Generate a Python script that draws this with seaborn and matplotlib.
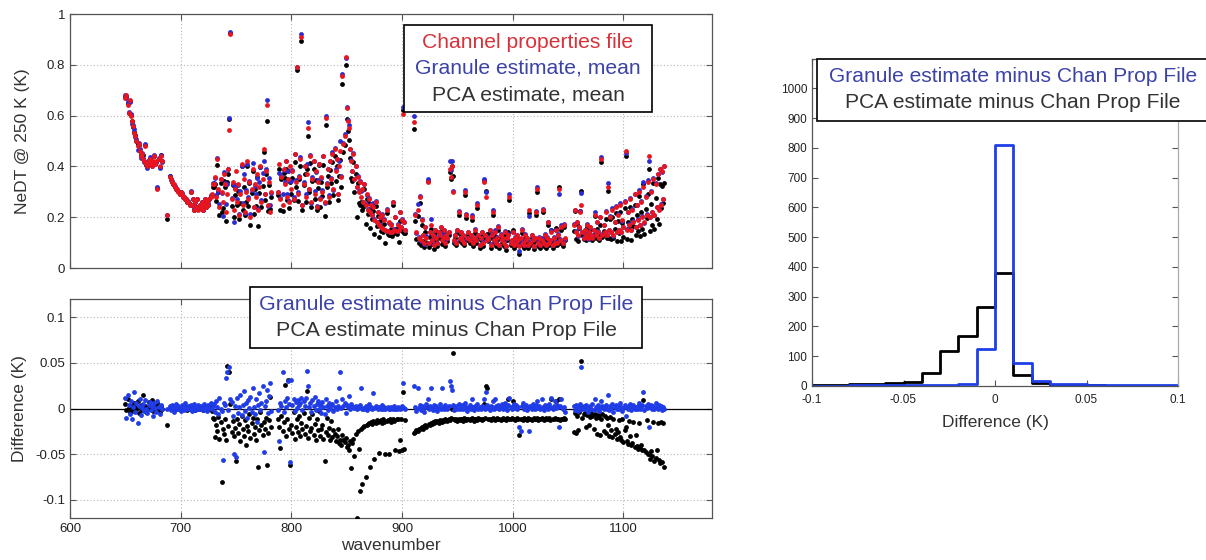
import numpy as np
import pandas as pd
import matplotlib
matplotlib.use("Agg")
import matplotlib.pyplot as plt
import seaborn as sns
from matplotlib.patches import Rectangle

sns.set_theme(style="white")
plt.rcParams['font.family'] = ['Liberation Sans', 'DejaVu Sans']
plt.rcParams['axes.unicode_minus'] = False

# ---------------- data ----------------
# channel grid (cm-1), segments separated by gaps
wavenumber = [*range(650, 684), 688, *range(690, 730), *range(730, 783),
              *range(788, 904), *range(911, 1048), *range(1055, 1138)]

# NeDT @ 250 K from channel properties file (K)
chan_nedt = [
    # 650-683
    0.67, 0.68, 0.64, 0.61, 0.66, 0.60, 0.58, 0.56, 0.53, 0.52,
    0.50, 0.48, 0.49, 0.46, 0.44, 0.45, 0.43, 0.42, 0.48, 0.41,
    0.40, 0.42, 0.43, 0.41, 0.40, 0.42, 0.44, 0.41, 0.42, 0.31,
    0.43, 0.40, 0.44, 0.42,
    # 688
    0.21,
    # 690-729
    0.36, 0.35, 0.34, 0.33, 0.33, 0.32, 0.31, 0.31, 0.30, 0.29,
    0.30, 0.29, 0.28, 0.28, 0.27, 0.27, 0.26, 0.26, 0.25, 0.30,
    0.25, 0.27, 0.23, 0.26, 0.24, 0.27, 0.23, 0.25, 0.24, 0.26,
    0.23, 0.25, 0.27, 0.24, 0.26, 0.25, 0.27, 0.28, 0.29, 0.33,
    # 730-782
    0.33, 0.36, 0.28, 0.43, 0.31, 0.24, 0.35, 0.30, 0.26, 0.37,
    0.33, 0.22, 0.29, 0.39, 0.545, 0.92, 0.27, 0.34, 0.23, 0.31,
    0.38, 0.26, 0.33, 0.21, 0.29, 0.41, 0.25, 0.35, 0.22, 0.30,
    0.42, 0.27, 0.34, 0.20, 0.31, 0.39, 0.24, 0.33, 0.28, 0.37,
    0.23, 0.32, 0.40, 0.26, 0.35, 0.47, 0.29, 0.38, 0.64, 0.25,
    0.34, 0.22, 0.30,
    # 788-903
    0.30, 0.41, 0.27, 0.36, 0.25, 0.39, 0.33, 0.42, 0.28, 0.35,
    0.26, 0.40, 0.31, 0.38, 0.27, 0.45, 0.34, 0.79, 0.29, 0.36,
    0.43, 0.91, 0.25, 0.33, 0.40, 0.28, 0.37, 0.55, 0.31, 0.44,
    0.26, 0.35, 0.42, 0.29, 0.38, 0.24, 0.34, 0.41, 0.27, 0.36,
    0.30, 0.44, 0.26, 0.59, 0.33, 0.39, 0.28, 0.42, 0.35, 0.45,
    0.31, 0.47, 0.38, 0.43, 0.29, 0.40, 0.46, 0.36, 0.755, 0.49,
    0.52, 0.83, 0.63, 0.58, 0.55, 0.47, 0.42, 0.38, 0.45, 0.35,
    0.40, 0.32, 0.36, 0.30, 0.34, 0.28, 0.31, 0.26, 0.33, 0.25,
    0.29, 0.23, 0.27, 0.22, 0.25, 0.21, 0.24, 0.19, 0.26, 0.18,
    0.22, 0.17, 0.20, 0.16, 0.21, 0.155, 0.19, 0.15, 0.23, 0.145,
    0.18, 0.14, 0.17, 0.14, 0.26, 0.15, 0.20, 0.145, 0.17, 0.15,
    0.22, 0.16, 0.19, 0.606, 0.18, 0.15,
    # 911-1047
    0.575, 0.21, 0.14, 0.23, 0.12, 0.28, 0.11, 0.19, 0.13, 0.10,
    0.16, 0.12, 0.34, 0.10, 0.14, 0.17, 0.11, 0.13, 0.09, 0.15,
    0.12, 0.10, 0.14, 0.13, 0.16, 0.11, 0.12, 0.15, 0.10, 0.13,
    0.12, 0.14, 0.39, 0.36, 0.40, 0.30, 0.11, 0.13, 0.10, 0.15,
    0.22, 0.12, 0.14, 0.11, 0.13, 0.10, 0.30, 0.21, 0.12, 0.14,
    0.11, 0.13, 0.20, 0.10, 0.12, 0.15, 0.11, 0.25, 0.13, 0.09,
    0.12, 0.14, 0.10, 0.34, 0.13, 0.28, 0.11, 0.12, 0.15, 0.09,
    0.13, 0.22, 0.11, 0.14, 0.10, 0.12, 0.16, 0.09, 0.13, 0.11,
    0.12, 0.10, 0.14, 0.085, 0.12, 0.13, 0.28, 0.10, 0.11, 0.14,
    0.09, 0.12, 0.10, 0.13, 0.11, 0.085, 0.12, 0.15, 0.10, 0.09,
    0.13, 0.11, 0.12, 0.09, 0.23, 0.10, 0.13, 0.11, 0.085, 0.12,
    0.22, 0.31, 0.10, 0.12, 0.09, 0.11, 0.23, 0.10, 0.13, 0.09,
    0.12, 0.18, 0.10, 0.11, 0.14, 0.09, 0.12, 0.10, 0.15, 0.10,
    0.13, 0.31, 0.11, 0.16, 0.10, 0.17, 0.12,
    # 1055-1137
    0.17, 0.23, 0.14, 0.18, 0.13, 0.16, 0.22, 0.25, 0.14, 0.12,
    0.15, 0.13, 0.17, 0.12, 0.14, 0.16, 0.13, 0.12, 0.15, 0.21,
    0.13, 0.18, 0.14, 0.12, 0.20, 0.43, 0.13, 0.17, 0.14, 0.22,
    0.13, 0.32, 0.15, 0.20, 0.14, 0.23, 0.13, 0.18, 0.24, 0.14,
    0.21, 0.15, 0.25, 0.14, 0.19, 0.16, 0.26, 0.46, 0.15, 0.22,
    0.17, 0.27, 0.15, 0.23, 0.18, 0.29, 0.16, 0.25, 0.19, 0.30,
    0.17, 0.26, 0.20, 0.32, 0.18, 0.28, 0.21, 0.34, 0.44, 0.20,
    0.30, 0.22, 0.35, 0.21, 0.33, 0.24, 0.37, 0.23, 0.39, 0.25,
    0.38, 0.27, 0.40,
]

# Granule estimate minus channel properties file (K)
granule_minus_chan = [
    # 650-683
    0.012, -0.010, 0.015, 0.004, -0.006, 0.008, -0.012, 0.002, 0.018, -0.004,
    0.006, -0.016, 0.003, 0.010, -0.007, 0.001, 0.005, -0.003, 0.009, 0.000,
    -0.005, 0.004, 0.007, -0.002, 0.003, -0.008, 0.006, 0.001, -0.004, 0.008,
    0.002, -0.006, 0.004, -0.001,
    # 688
    0.000,
    # 690-729
    0.003, -0.002, 0.004, 0.001, -0.004, 0.002, 0.005, -0.001, 0.003, 0.000,
    -0.003, 0.004, 0.001, -0.002, 0.006, 0.002, -0.001, 0.003, 0.000, 0.004,
    -0.003, 0.001, 0.005, -0.002, 0.002, 0.000, 0.004, -0.001, 0.003, 0.001,
    -0.002, 0.005, 0.000, 0.002, -0.003, 0.004, 0.001, 0.006, -0.001, 0.003,
    # 730-782
    0.005, -0.004, 0.008, 0.002, -0.006, 0.012, 0.000, -0.003, -0.056, 0.006,
    0.004, 0.033, 0.040, -0.002, 0.045, 0.010, 0.007, -0.008, -0.050, 0.003,
    -0.053, 0.011, -0.005, 0.002, 0.015, -0.007, 0.004, 0.019, -0.003, 0.006,
    -0.010, 0.009, 0.001, 0.013, -0.004, 0.022, 0.002, -0.006, 0.010, -0.015,
    0.004, 0.017, -0.002, 0.006, 0.025, -0.048, 0.003, 0.008, 0.020, -0.005,
    0.014, 0.028, -0.003,
    # 788-903
    -0.002, -0.036, 0.006, 0.003, 0.040, -0.004, 0.008, 0.002, 0.012, 0.030,
    0.005, -0.059, 0.031, 0.004, 0.010, -0.003, 0.007, 0.001, 0.009, 0.004,
    0.006, 0.012, -0.002, 0.008, 0.003, 0.011, 0.041, 0.025, 0.002, 0.006,
    -0.004, 0.009, 0.003, 0.013, -0.002, 0.005, 0.008, 0.000, 0.004, -0.005,
    0.007, 0.002, -0.006, 0.010, 0.003, -0.002, 0.006, 0.001, 0.004, 0.005,
    -0.003, 0.002, 0.008, -0.001, 0.003, 0.022, 0.040, 0.001, 0.010, 0.003,
    0.006, -0.005, 0.004, 0.002, 0.014, 0.000, 0.005, 0.003, 0.002, 0.001,
    0.003, 0.000, 0.001, 0.002, 0.004, 0.022, -0.001, 0.001, 0.000, 0.003,
    -0.002, 0.001, 0.005, 0.001, 0.002, 0.000, 0.017, 0.001, 0.003, 0.002,
    0.000, 0.002, 0.001, 0.000, 0.004, -0.001, 0.002, 0.000, 0.001, 0.002,
    -0.001, 0.000, 0.002, 0.001, 0.000, 0.003, -0.001, 0.000, 0.002, 0.001,
    0.000, 0.001, 0.003, 0.028, 0.001, 0.000,
    # 911-1047
    0.025, 0.002, -0.003, 0.022, 0.001, 0.004, -0.002, 0.003, 0.000, -0.004,
    0.002, 0.005, 0.010, -0.001, 0.003, 0.023, 0.001, -0.002, 0.004, 0.000,
    0.003, -0.003, 0.001, 0.005, 0.000, 0.022, 0.002, -0.001, 0.004, 0.001,
    0.000, 0.003, 0.030, 0.025, 0.020, 0.004, -0.002, 0.001, 0.003, 0.000,
    0.005, -0.001, 0.002, 0.004, 0.000, 0.003, 0.006, 0.002, -0.003, 0.001,
    0.004, 0.000, 0.010, 0.002, -0.002, 0.003, 0.001, 0.005, 0.000, 0.002,
    -0.001, 0.003, 0.002, 0.010, 0.000, 0.018, 0.004, 0.001, -0.002, 0.003,
    0.002, 0.008, 0.000, 0.010, 0.003, 0.001, 0.004, -0.001, 0.002, 0.005,
    0.000, 0.003, 0.006, 0.001, -0.002, 0.004, 0.011, 0.002, 0.000, 0.003,
    0.005, 0.001, 0.004, -0.001, 0.002, -0.020, -0.025, 0.003, 0.006, 0.000,
    0.002, 0.004, -0.002, 0.001, -0.025, 0.003, 0.000, 0.005, 0.002, -0.001,
    0.004, 0.008, 0.001, 0.003, 0.000, 0.010, 0.002, -0.002, 0.004, 0.001,
    0.003, 0.000, 0.005, 0.002, 0.011, -0.001, 0.003, 0.008, 0.001, 0.004,
    0.002, -0.020, 0.003, 0.010, 0.000, 0.002, -0.004,
    # 1055-1137
    0.003, -0.002, 0.004, 0.001, -0.003, 0.002, 0.005, 0.046, 0.000, 0.003,
    -0.001, 0.004, 0.002, -0.004, 0.001, 0.003, 0.000, 0.005, -0.002, 0.010,
    0.002, 0.000, 0.004, -0.003, 0.001, 0.008, 0.003, -0.001, 0.002, 0.004,
    0.000, 0.015, -0.002, 0.003, 0.001, 0.005, -0.004, 0.002, 0.004, 0.000,
    0.003, -0.001, 0.006, 0.002, -0.003, 0.001, 0.004, -0.008, 0.002, 0.000,
    0.003, 0.005, -0.002, 0.001, 0.004, 0.000, 0.002, -0.001, 0.003, 0.006,
    0.000, 0.002, 0.004, 0.018, -0.002, 0.003, 0.001, 0.005, -0.020, 0.002,
    0.004, 0.000, 0.003, -0.001, 0.006, 0.002, 0.000, 0.004, 0.001, 0.003,
    -0.002, 0.002, 0.000,
]

# PCA estimate minus channel properties file (K)
pca_minus_chan = [
    # 650-683
    0.005, -0.002, 0.010, 0.001, -0.004, 0.003, 0.000, -0.003, 0.006, 0.002,
    -0.001, 0.008, -0.005, 0.001, 0.004, -0.002, 0.015, 0.000, 0.003, -0.004,
    0.002, 0.007, -0.001, 0.001, 0.009, -0.003, 0.000, 0.004, -0.002, 0.006,
    0.001, -0.004, 0.003, 0.000,
    # 688
    -0.018,
    # 690-729
    0.001, -0.001, 0.000, 0.002, -0.002, 0.000, 0.001, -0.001, 0.002, 0.000,
    -0.002, 0.001, 0.000, -0.001, 0.002, 0.000, -0.002, 0.001, 0.003, 0.000,
    -0.001, 0.002, 0.000, -0.002, 0.001, 0.000, 0.002, -0.001, 0.000, 0.001,
    -0.002, 0.000, 0.003, -0.001, 0.001, 0.000, 0.002, 0.004, -0.003, -0.010,
    # 730-782
    -0.012, -0.031, -0.018, -0.025, -0.009, -0.033, -0.015, -0.080, -0.022, -0.028,
    -0.012, -0.035, 0.047, -0.019, 0.040, 0.005, -0.026, -0.014, -0.030, -0.021,
    -0.058, -0.011, -0.027, -0.017, -0.036, -0.008, -0.023, -0.030, -0.013, -0.040,
    -0.019, -0.025, -0.006, -0.032, -0.016, -0.010, -0.028, -0.020, -0.035, -0.012,
    -0.064, -0.024, -0.004, -0.018, -0.029, -0.015, -0.022, -0.010, -0.062, -0.027,
    -0.013, 0.013, -0.020,
    # 788-903
    -0.012, -0.020, -0.043, -0.008, -0.025, -0.015, 0.026, -0.030, -0.011, 0.031,
    -0.022, -0.062, -0.018, -0.027, -0.004, -0.033, -0.020, -0.012, -0.026, -0.008,
    -0.030, -0.016, -0.023, -0.005, -0.028, -0.019, 0.019, -0.032, -0.010, -0.025,
    -0.021, -0.006, -0.029, -0.017, -0.034, -0.012, -0.024, -0.003, -0.030, -0.022,
    -0.018, -0.033, -0.057, -0.026, -0.010, -0.029, -0.021, -0.035, -0.014, -0.031,
    -0.024, -0.028, -0.036, -0.030, -0.022, -0.038, -0.034, -0.040, -0.029, -0.035,
    -0.037, -0.032, -0.042, -0.040, -0.045, -0.036, -0.065, -0.038, -0.033, -0.052,
    -0.028, -0.120, -0.025, -0.044, -0.090, -0.022, -0.083, -0.020, -0.019, -0.075,
    -0.018, -0.017, -0.016, -0.064, -0.015, -0.017, -0.014, -0.055, -0.016, -0.013,
    -0.015, -0.049, -0.014, -0.013, -0.016, -0.012, -0.015, -0.050, -0.014, -0.013,
    -0.050, -0.012, -0.015, -0.013, -0.012, -0.014, -0.045, -0.012, -0.011, -0.047,
    -0.034, -0.012, -0.045, 0.018, -0.044, -0.013,
    # 911-1047
    -0.027, -0.026, -0.024, -0.025, -0.022, -0.023, -0.021, -0.020, -0.022, -0.019,
    -0.018, -0.020, 0.002, -0.017, -0.018, -0.016, -0.017, -0.015, -0.016, -0.014,
    -0.015, -0.014, -0.016, -0.013, -0.014, -0.015, -0.013, -0.014, -0.012, -0.013,
    -0.014, -0.012, -0.013, -0.010, 0.000, 0.061, -0.012, -0.013, -0.011, -0.014,
    -0.012, -0.013, -0.011, -0.012, -0.014, -0.010, -0.012, -0.013, -0.011, -0.012,
    -0.013, -0.011, -0.010, -0.012, -0.014, -0.011, -0.012, -0.013, -0.010, -0.012,
    -0.011, -0.013, -0.012, 0.005, -0.010, 0.025, 0.022, -0.012, -0.011, -0.013,
    -0.012, -0.010, -0.011, -0.013, -0.012, -0.010, -0.011, -0.012, -0.013, -0.011,
    -0.010, -0.012, -0.011, -0.013, -0.010, 0.010, -0.012, -0.011, -0.010, 0.008,
    -0.012, -0.013, -0.011, -0.010, -0.012, -0.029, -0.012, -0.011, -0.013, -0.010,
    -0.012, -0.011, -0.013, -0.010, -0.012, -0.011, -0.013, -0.012, -0.010, -0.011,
    -0.012, -0.010, -0.013, -0.011, -0.012, -0.010, -0.011, -0.013, -0.012, -0.010,
    -0.011, -0.012, -0.010, -0.013, 0.010, -0.011, -0.012, -0.010, 0.008, -0.011,
    -0.012, 0.010, -0.013, -0.011, -0.012, -0.010, -0.011,
    # 1055-1137
    -0.026, -0.005, -0.027, -0.008, -0.024, -0.004, 0.003, 0.052, -0.010, -0.006,
    -0.005, -0.020, -0.007, -0.006, -0.018, -0.009, -0.005, -0.008, -0.022, -0.006,
    -0.010, -0.028, -0.007, -0.009, -0.029, -0.012, -0.006, -0.025, -0.008, -0.027,
    -0.010, -0.018, -0.030, -0.009, -0.024, -0.031, -0.011, -0.028, -0.022, -0.033,
    -0.026, -0.013, -0.031, -0.035, -0.012, -0.037, -0.024, -0.020, -0.036, -0.039,
    -0.014, -0.030, -0.040, -0.038, -0.015, -0.042, -0.029, -0.041, -0.044, -0.016,
    -0.043, -0.040, -0.046, 0.009, -0.045, -0.048, -0.013, -0.050, -0.050, -0.055,
    -0.047, -0.052, -0.015, -0.058, -0.054, -0.046, -0.016, -0.056, -0.060, -0.015,
    -0.059, -0.016, -0.064,
]

# histogram of the differences (all channels), 0.01 K bins
hist_edges = [-0.10, -0.09, -0.08, -0.07, -0.06, -0.05, -0.04, -0.03, -0.02, -0.01, 0.00,
              0.01, 0.02, 0.03, 0.04, 0.05, 0.06, 0.07, 0.08, 0.09, 0.10]
granule_hist_counts = [1, 1, 2, 2, 3, 3, 4, 5, 6, 126, 809, 78, 17, 7, 6, 3, 3, 3, 3, 2]
pca_hist_counts = [2, 3, 7, 7, 11, 15, 43, 119, 169, 264, 379, 38, 9, 3, 2, 2, 1, 1, 1, 1]

n = min(len(wavenumber), len(chan_nedt), len(granule_minus_chan), len(pca_minus_chan))

df = pd.DataFrame({
    "wavenumber": wavenumber[:n],
    "chan": chan_nedt[:n],
    "gdiff": granule_minus_chan[:n],
    "pdiff": pca_minus_chan[:n],
})
df["granule"] = df["chan"] + df["gdiff"]
df["pca"] = df["chan"] + df["pdiff"]

hist_centers = [(a + b) / 2 for a, b in zip(hist_edges[:-1], hist_edges[1:])]

# ---------------- styling ----------------
RED = "#e8141e"
BLUE_TOP = "#2a2ad2"
BLUE_BOT = "#1f3ce6"
BLUE_HIST = "#1e3ee8"
SPINE = "#555555"
TXT = "#222222"

W, H = 1206, 560
fig = plt.figure(figsize=(W / 100, H / 100), dpi=100)
fig.patch.set_facecolor("white")


def add_ax(x0, y0, x1, y1):
    return fig.add_axes([x0 / W, 1 - y1 / H, (x1 - x0) / W, (y1 - y0) / H])


ax1 = add_ax(70, 14, 712, 268)
ax2 = add_ax(70, 299, 712, 518)
ax3 = add_ax(812, 58.7, 1178, 386)


def style(ax, grid=True):
    ax.set_facecolor("white")
    for s in ax.spines.values():
        s.set_color(SPINE)
        s.set_linewidth(0.9)
        s.set_visible(True)
    ax.tick_params(direction="in", length=4, width=0.8, colors=SPINE,
                   labelcolor=TXT, labelsize=9.5, top=True, right=True,
                   bottom=True, left=True)
    if grid:
        ax.grid(True, linestyle=(0, (1, 2)), color="#b5b5b5", linewidth=0.8)
        ax.set_axisbelow(True)


ms = 12
# --- top panel: NeDT
sns.scatterplot(data=df, x="wavenumber", y="pca", color="black", s=ms,
                linewidth=0, ax=ax1, zorder=3)
sns.scatterplot(data=df, x="wavenumber", y="granule", color=BLUE_TOP, s=ms,
                linewidth=0, ax=ax1, zorder=4)
sns.scatterplot(data=df, x="wavenumber", y="chan", color=RED, s=ms,
                linewidth=0, ax=ax1, zorder=5)
ax1.set_xlim(600, 1180)
ax1.set_ylim(0, 1)
ax1.set_xticks([600, 700, 800, 900, 1000, 1100])
ax1.set_xticklabels([])
ax1.set_yticks([0, 0.2, 0.4, 0.6, 0.8, 1.0])
ax1.set_yticklabels(["0", "0.2", "0.4", "0.6", "0.8", "1"])
ax1.set_xlabel("")
ax1.set_ylabel("NeDT @ 250 K (K)", fontsize=12.5, color="#333333", labelpad=12)
style(ax1)

# --- bottom panel: differences
ax2.axhline(0, color="black", linewidth=0.9, zorder=2)
sns.scatterplot(data=df, x="wavenumber", y="pdiff", color="black", s=ms,
                linewidth=0, ax=ax2, zorder=3)
sns.scatterplot(data=df, x="wavenumber", y="gdiff", color=BLUE_BOT, s=ms,
                linewidth=0, ax=ax2, zorder=4)
ax2.set_xlim(600, 1180)
ax2.set_ylim(-0.12, 0.12)
ax2.set_xticks([600, 700, 800, 900, 1000, 1100])
ax2.set_xticklabels(["600", "700", "800", "900", "1000", "1100"])
ax2.set_yticks([-0.1, -0.05, 0, 0.05, 0.1])
ax2.set_yticklabels(["-0.1", "-0.05", "0", "0.05", "0.1"])
ax2.set_xlabel("wavenumber", fontsize=12.5, color="#333333", labelpad=2)
ax2.set_ylabel("Difference (K)", fontsize=12.5, color="#333333", labelpad=6)
style(ax2)

# --- right panel: histogram
sns.histplot(x=hist_centers, weights=pca_hist_counts, bins=hist_edges,
             element="step", fill=False, color="black", linewidth=2, ax=ax3)
sns.histplot(x=hist_centers, weights=granule_hist_counts, bins=hist_edges,
             element="step", fill=False, color=BLUE_HIST, linewidth=2, ax=ax3)
ax3.set_xlim(-0.1, 0.1)
ax3.set_ylim(0, 1100)
ax3.set_xticks([-0.1, -0.05, 0, 0.05, 0.1])
ax3.set_xticklabels(["-0.1", "-0.05", "0", "0.05", "0.1"])
ax3.set_yticks(list(range(0, 1001, 100)))
ax3.set_xlabel("Difference (K)", fontsize=12.5, color="#333333", labelpad=6)
ax3.set_ylabel("")
style(ax3, grid=False)
ax3.tick_params(labelsize=8.5)
ax3.tick_params(axis="x", pad=6)
ax3.spines["right"].set_color("#aaaaaa")


# ---------------- legend boxes ----------------
def box(x0, y0, x1, y1):
    r = Rectangle((x0 / W, 1 - y1 / H), (x1 - x0) / W, (y1 - y0) / H,
                  transform=fig.transFigure, facecolor="white",
                  edgecolor="black", linewidth=1.2, zorder=10)
    fig.patches.append(r)


def line(xc, yc, s, color, size):
    fig.text(xc / W, 1 - yc / H, s, color=color, fontsize=size,
             ha="center", va="center", zorder=11)


LEG_RED = "#d8323a"
LEG_BLUE = "#3b42a8"
LEG_BLACK = "#333333"

box(404, 25, 652, 112)
line(528, 43, "Channel properties file", LEG_RED, 15.2)
line(528, 68, "Granule estimate, mean", LEG_BLUE, 15.2)
line(528, 95, "PCA estimate, mean", LEG_BLACK, 15.2)

box(250, 287, 642, 348)
line(446, 305, "Granule estimate minus Chan Prop File", LEG_BLUE, 15.4)
line(446, 331, "PCA estimate minus Chan Prop File", LEG_BLACK, 15.4)

box(817, 58.7, 1210, 121)
line(1013, 77, "Granule estimate minus Chan Prop File", LEG_BLUE, 15.1)
line(1013, 102, "PCA estimate minus Chan Prop File", LEG_BLACK, 15.1)

fig.savefig("out.png", dpi=100)
